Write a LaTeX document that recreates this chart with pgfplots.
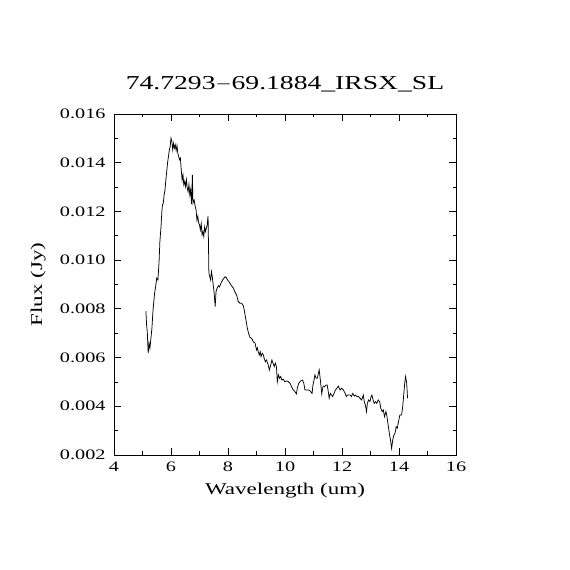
\documentclass[border=0pt]{standalone}
\usepackage{fontspec}
\setmainfont{Liberation Serif}[FakeStretch=1.4]
\usepackage{pgfplots}
\pgfplotsset{compat=1.18}
\begin{document}
\begin{tikzpicture}[x=1bp,y=1bp]
\useasboundingbox (0,0) rectangle (570,570);
\fill[white] (0,0) rectangle (570,570);
\begin{axis}[
  at={(114bp,115bp)}, anchor=south west,
  scale only axis, width=342bp, height=341bp,
  xmin=4, xmax=16, ymin=0.002, ymax=0.016,
  xtick={4,6,...,16}, minor x tick num=1,
  ytick={0.002,0.004,...,0.0161}, minor y tick num=1,
  scaled y ticks=false,
  yticklabel style={xshift=-5bp, /pgf/number format/fixed, /pgf/number format/fixed zerofill, /pgf/number format/precision=3},
  /pgf/number format/assume math mode=true,
  tick align=inside,
  major tick length=7bp, minor tick length=3.5bp,
  tick style={black, line width=0.8bp},
  axis line style={line width=0.8bp},
  ticklabel style={font=\fontsize{14.5}{16}\selectfont},
  xticklabel style={yshift=-3bp},
  label style={font=\fontsize{16.5}{18}\selectfont},
  xlabel={Wavelength (um)},
  ylabel={Flux (Jy)},
  xlabel style={at={(axis description cs:0.5,0)}, anchor=north, yshift=-25bp},
  ylabel style={at={(axis description cs:-0.222,0.5)}, anchor=center},
  title={74.7293\(-\)69.1884\_IRSX\_SL},
  title style={font=\fontsize{19.8}{22}\selectfont, yshift=12bp},
]
\addplot[black, line width=0.75bp] coordinates {
(5.12,0.00791) (5.14,0.00741) (5.17,0.00700) (5.20,0.00618) (5.23,0.00659)
(5.26,0.00638) (5.29,0.00672) (5.33,0.00720) (5.37,0.00796) (5.42,0.00860)
(5.46,0.00891) (5.50,0.00926) (5.54,0.00919) (5.58,0.00990) (5.61,0.01076)
(5.65,0.01138) (5.68,0.01200) (5.70,0.01227) (5.73,0.01234) (5.76,0.01270)
(5.79,0.01288) (5.82,0.01330) (5.85,0.01364) (5.88,0.01400) (5.91,0.01425)
(5.94,0.01450) (5.97,0.01466) (6.00,0.01501) (6.03,0.01487) (6.06,0.01453)
(6.09,0.01480) (6.12,0.01460) (6.15,0.01473) (6.18,0.01450) (6.21,0.01470)
(6.24,0.01439) (6.27,0.01425) (6.30,0.01412) (6.33,0.01419) (6.36,0.01370)
(6.39,0.01329) (6.42,0.01350) (6.45,0.01309) (6.48,0.01323) (6.51,0.01302)
(6.54,0.01330) (6.57,0.01295) (6.60,0.01281) (6.63,0.01310) (6.66,0.01268)
(6.69,0.01290) (6.72,0.01230) (6.75,0.01350) (6.77,0.01234) (6.81,0.01247)
(6.85,0.01220) (6.88,0.01206) (6.91,0.01165) (6.94,0.01180) (6.97,0.01152)
(7.00,0.01145) (7.03,0.01124) (7.06,0.01150) (7.09,0.01104) (7.12,0.01117)
(7.15,0.01097) (7.18,0.01136) (7.21,0.01117) (7.24,0.01131) (7.27,0.01145)
(7.30,0.01182) (7.33,0.00946) (7.36,0.00932) (7.39,0.00919) (7.42,0.00953)
(7.45,0.00930) (7.48,0.00898) (7.51,0.00871) (7.55,0.00809) (7.58,0.00871)
(7.62,0.00885) (7.66,0.00895) (7.70,0.00890) (7.74,0.00902) (7.78,0.00912)
(7.82,0.00920) (7.86,0.00926) (7.90,0.00932) (7.94,0.00928) (7.98,0.00919)
(8.03,0.00912) (8.07,0.00905) (8.12,0.00895) (8.19,0.00885) (8.24,0.00870)
(8.30,0.00857) (8.36,0.00830) (8.42,0.00823) (8.48,0.00823) (8.54,0.00812)
(8.59,0.00782) (8.63,0.00754) (8.68,0.00720) (8.72,0.00700) (8.77,0.00683)
(8.83,0.00679) (8.89,0.00665) (8.95,0.00659) (9.00,0.00631) (9.03,0.00640)
(9.06,0.00624) (9.10,0.00611) (9.13,0.00624) (9.16,0.00604) (9.20,0.00618)
(9.24,0.00611) (9.27,0.00597) (9.31,0.00583) (9.35,0.00590) (9.41,0.00570)
(9.45,0.00549) (9.50,0.00570) (9.54,0.00590) (9.58,0.00577) (9.62,0.00563)
(9.66,0.00577) (9.70,0.00563) (9.73,0.00501) (9.77,0.00529) (9.81,0.00515)
(9.85,0.00522) (9.89,0.00508) (9.94,0.00511) (9.99,0.00501) (10.06,0.00504)
(10.12,0.00501) (10.18,0.00494) (10.23,0.00481) (10.29,0.00467) (10.35,0.00460)
(10.40,0.00451) (10.43,0.00474) (10.48,0.00494) (10.55,0.00504) (10.62,0.00508)
(10.66,0.00494) (10.70,0.00467) (10.77,0.00467) (10.83,0.00467) (10.88,0.00463)
(10.95,0.00453) (10.98,0.00487) (11.02,0.00508) (11.05,0.00529) (11.09,0.00515)
(11.13,0.00515) (11.16,0.00529) (11.20,0.00549) (11.24,0.00508) (11.29,0.00451)
(11.32,0.00474) (11.34,0.00483) (11.39,0.00481) (11.44,0.00487) (11.48,0.00487)
(11.51,0.00467) (11.55,0.00433) (11.59,0.00453) (11.63,0.00446) (11.67,0.00440)
(11.72,0.00453) (11.77,0.00467) (11.82,0.00474) (11.87,0.00483) (11.93,0.00467)
(11.99,0.00474) (12.05,0.00467) (12.11,0.00453) (12.15,0.00440) (12.19,0.00446)
(12.24,0.00446) (12.29,0.00446) (12.33,0.00440) (12.38,0.00453) (12.43,0.00442)
(12.47,0.00446) (12.52,0.00440) (12.58,0.00440) (12.63,0.00433) (12.69,0.00426)
(12.75,0.00446) (12.78,0.00419) (12.82,0.00405) (12.86,0.00378) (12.89,0.00412)
(12.93,0.00426) (12.98,0.00419) (13.02,0.00440) (13.05,0.00446) (13.09,0.00426)
(13.13,0.00412) (13.18,0.00419) (13.22,0.00412) (13.27,0.00426) (13.32,0.00419)
(13.36,0.00392) (13.41,0.00378) (13.45,0.00385) (13.49,0.00357) (13.54,0.00378)
(13.57,0.00364) (13.61,0.00330) (13.66,0.00289) (13.71,0.00255) (13.74,0.00227)
(13.78,0.00262) (13.82,0.00282) (13.86,0.00289) (13.90,0.00316) (13.94,0.00310)
(13.97,0.00330) (14.03,0.00364) (14.09,0.00364) (14.13,0.00398) (14.16,0.00440)
(14.20,0.00494) (14.23,0.00522) (14.27,0.00494) (14.30,0.00433)
};
\end{axis}
\end{tikzpicture}
\end{document}
